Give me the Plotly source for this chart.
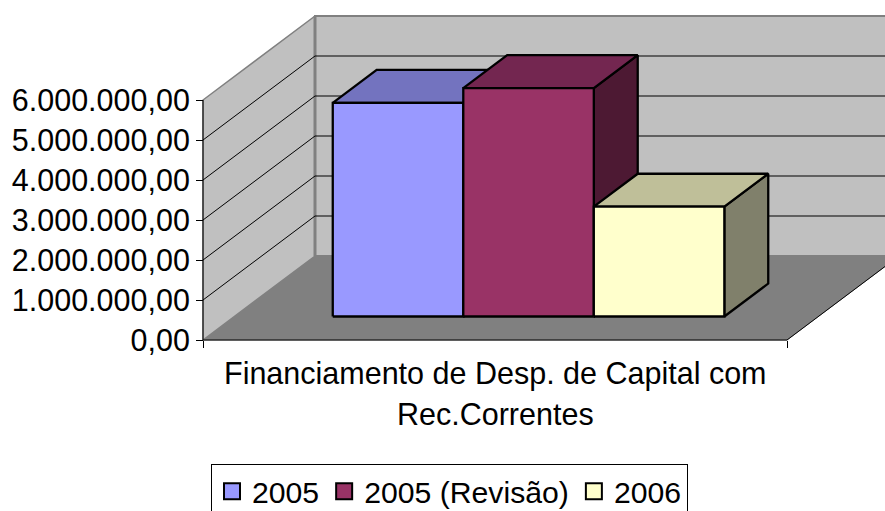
import plotly.graph_objects as go

# --- data ---
series_names = ["2005", "2005 (Revisão)", "2006"]
series_values = [5340000, 5710000, 2745000]
category_lines = ["Financiamento de Desp. de Capital com", "Rec.Correntes"]
y_ticks = [0, 1000000, 2000000, 3000000, 4000000, 5000000, 6000000]

# --- style ---
front_colors = ["#9999FF", "#993366", "#FFFFCC"]
top_colors = ["#7373BF", "#732650", "#BFBF99"]
side_colors = ["#4D4D80", "#4D1933", "#80806B"]
FONT = "Liberation Sans, Arial, sans-serif"
FS = 30.5
FS_LEGEND = 30.2
W, H = 885, 511

# plot frame in the page, the axes span the whole page so the oblique box is not clipped
X0_PX, X1_PX, Y0_PX, Y6_PX = 203, 787, 340, 100
Y_MAX = y_ticks[-1]
X_SCALE = X1_PX - X0_PX
Y_SCALE = (Y0_PX - Y6_PX) / Y_MAX

# oblique projection: depth 0..1 shifts a point in x-axis and y-axis units
DEPTH_X = 112 / X_SCALE
DEPTH_Y = 84 / Y_SCALE
D_FRONT, D_BACK = 0.28, 0.672
BAR_START, BAR_WIDTH = 0.1685, 0.2235
BAR_LINE = 2.3


def proj(x, v, d):
    return x + d * DEPTH_X, v + d * DEPTH_Y


def poly(points, fill, line="#000000", width=1.0, close=True):
    pts = [proj(*p) for p in points]
    if close:
        pts.append(pts[0])
    return go.Scatter(
        x=[p[0] for p in pts], y=[p[1] for p in pts], mode="lines",
        fill="toself" if fill else "none", fillcolor=fill,
        line=dict(color=line, width=width, shape="linear"),
        showlegend=False, hoverinfo="skip",
    )


fig = go.Figure()
# floor
fig.add_trace(poly([(0, 0, 0), (1, 0, 0), (1, 0, 1), (0, 0, 1)], "#808080", "#808080", 1))
# walls
fig.add_trace(poly([(0, 0, 1), (1, 0, 1), (1, Y_MAX, 1), (0, Y_MAX, 1)], "#C0C0C0", "#808080", 2))
fig.add_trace(poly([(0, 0, 0), (0, 0, 1), (0, Y_MAX, 1), (0, Y_MAX, 0)], "#C0C0C0", "#808080", 1.5))
# corner of the walls
fig.add_trace(poly([(0, 0, 1), (0, Y_MAX, 1)], None, "#808080", 3, close=False))
# grid lines on both walls
for t in y_ticks[1:-1]:
    fig.add_trace(poly([(0, t, 0), (0, t, 1), (1.5, t, 1)], None, "#000000", 1, close=False))
# right edge of floor
fig.add_trace(poly([(1, 0, 0), (1, 0, 1)], None, "#000000", 1, close=False))
# axis lines
fig.add_trace(poly([(0, Y_MAX, 0), (0, 0, 0), (1, 0, 0)], None, "#000000", 1, close=False))

# bars, left to right
for i, v in enumerate(series_values):
    x0 = BAR_START + i * BAR_WIDTH
    x1 = x0 + BAR_WIDTH
    fig.add_trace(poly([(x1, 0, D_FRONT), (x1, 0, D_BACK), (x1, v, D_BACK), (x1, v, D_FRONT)],
                       side_colors[i], "#000000", BAR_LINE))
    fig.add_trace(poly([(x0, v, D_FRONT), (x1, v, D_FRONT), (x1, v, D_BACK), (x0, v, D_BACK)],
                       top_colors[i], "#000000", BAR_LINE))
    fig.add_trace(poly([(x0, 0, D_FRONT), (x1, 0, D_FRONT), (x1, v, D_FRONT), (x0, v, D_FRONT)],
                       front_colors[i], "#000000", BAR_LINE))

# legend keys
for name, c in zip(series_names, front_colors):
    fig.add_trace(go.Scatter(
        x=[None], y=[None], mode="markers", name=name,
        marker=dict(symbol="square", size=17, color=c, line=dict(color="#000000", width=2)),
    ))

annotations = [
    dict(x=0.5, y=0, xref="x", yref="y", text=line, showarrow=False, xanchor="center",
         yanchor="middle", yshift=-(33 + 41 * k), font=dict(family=FONT, size=FS, color="#000000"))
    for k, line in enumerate(category_lines)
]

fig.update_layout(
    width=W, height=H,
    margin=dict(l=0, r=0, t=0, b=0, autoexpand=False),
    paper_bgcolor="#FFFFFF", plot_bgcolor="rgba(0,0,0,0)",
    separators=",.",
    font=dict(family=FONT, size=FS, color="#000000"),
    hovermode=False,
    annotations=annotations,
    legend=dict(
        orientation="h", x=211 / W, xanchor="left", y=(H - 464) / H, yanchor="top",
        bgcolor="#FFFFFF", bordercolor="#000000", borderwidth=1,
        font=dict(family=FONT, size=FS_LEGEND), itemclick=False, itemdoubleclick=False,
    ),
    xaxis=dict(
        domain=[0, 1], range=[-X0_PX / X_SCALE, (W - X0_PX) / X_SCALE],
        anchor="free", position=(H - Y0_PX) / H, tickmode="array",
        tickvals=[0, 1], ticktext=["", ""], ticks="outside", ticklen=7, tickcolor="#000000",
        showline=False, showgrid=False, zeroline=False,
    ),
    yaxis=dict(
        domain=[0, 1], range=[-(H - Y0_PX) / Y_SCALE, Y0_PX / Y_SCALE],
        anchor="free", position=X0_PX / W, tickmode="array",
        tickvals=y_ticks, tickformat=",.2f", ticks="outside", ticklen=7, tickcolor="#000000",
        showline=False, showgrid=False, zeroline=False,
    ),
)
fig.write_html(
    "out.html",
    config={"displayModeBar": False},
    post_script="document.body.style.margin='0';document.body.style.overflow='hidden';",
)
